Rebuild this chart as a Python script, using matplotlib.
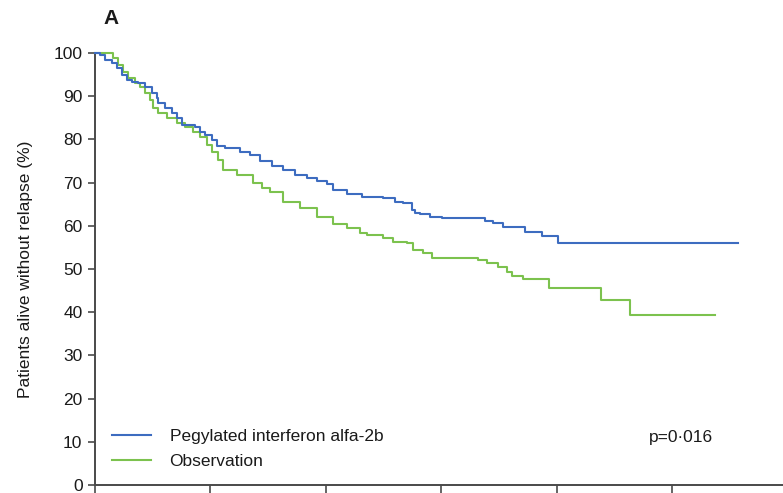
import matplotlib
matplotlib.use("Agg")
import matplotlib.pyplot as plt
from matplotlib import font_manager

# Data (years, % alive without relapse)
peg_t = [0.000, 0.043, 0.087, 0.147, 0.191, 0.234, 0.277, 0.321, 0.373, 0.433, 0.494,
         0.537, 0.546, 0.607, 0.667, 0.711, 0.754, 0.867, 0.910, 0.953, 1.014, 1.057,
         1.127, 1.256, 1.343, 1.430, 1.534, 1.629, 1.733, 1.837, 1.924, 2.010, 2.062,
         2.184, 2.314, 2.496, 2.600, 2.669, 2.747, 2.773, 2.816, 2.903, 3.007, 3.380,
         3.449, 3.536, 3.726, 3.873, 4.012, 5.572]
peg_s = [100.0, 99.5, 98.4, 97.7, 96.5, 94.9, 93.8, 93.3, 93.1, 92.1, 90.7,
         89.6, 88.4, 87.3, 86.1, 85.0, 83.3, 82.9, 81.7, 81.0, 79.9, 78.5,
         78.0, 77.1, 76.4, 75.0, 73.8, 72.9, 71.8, 71.1, 70.4, 69.7, 68.3,
         67.4, 66.7, 66.4, 65.5, 65.3, 63.7, 63.0, 62.7, 62.0, 61.8, 61.1,
         60.6, 59.7, 58.6, 57.6, 56.0, 56.0]

obs_t = [0.000, 0.113, 0.156, 0.199, 0.243, 0.286, 0.347, 0.390, 0.433, 0.477, 0.503,
         0.546, 0.624, 0.711, 0.780, 0.849, 0.910, 0.971, 1.014, 1.066, 1.109, 1.231,
         1.369, 1.447, 1.516, 1.629, 1.776, 1.924, 2.062, 2.184, 2.296, 2.357, 2.496,
         2.582, 2.704, 2.756, 2.842, 2.920, 3.319, 3.397, 3.492, 3.570, 3.614, 3.709,
         3.934, 4.385, 4.636, 5.373]
obs_s = [100.0, 100.0, 98.8, 97.2, 95.6, 94.2, 93.1, 92.1, 90.7, 89.1, 87.3,
         86.1, 85.0, 83.8, 82.9, 81.7, 80.6, 78.7, 77.1, 75.2, 72.9, 71.8,
         69.9, 68.8, 67.8, 65.5, 64.1, 62.0, 60.4, 59.5, 58.3, 57.9, 57.2,
         56.2, 56.0, 54.4, 53.7, 52.5, 52.1, 51.4, 50.5, 49.3, 48.4, 47.7,
         45.6, 42.8, 39.4, 39.4]

series_labels = ["Pegylated interferon alfa-2b", "Observation"]
y_ticks = [0, 10, 20, 30, 40, 50, 60, 70, 80, 90, 100]
x_ticks = [0, 1, 2, 3, 4, 5]

names = {f.name for f in font_manager.fontManager.ttflist}
fam = "Liberation Sans Narrow" if "Liberation Sans Narrow" in names else "Liberation Sans"
plt.rcParams["font.family"] = [fam, "DejaVu Sans"]

BLUE = "#3d6cc0"
GREEN = "#7cc24e"
AX = "#4a4a4a"
TXT = "#1a1a1a"

fig = plt.figure(figsize=(7.83, 4.93), dpi=100)
ax = fig.add_axes([95/783, 8/493, 688/783, 432/493])

ax.plot(peg_t, peg_s, drawstyle="steps-post", color=BLUE, lw=1.5, clip_on=False,
        label=series_labels[0], zorder=3)
ax.plot(obs_t, obs_s, drawstyle="steps-post", color=GREEN, lw=1.5, clip_on=False,
        label=series_labels[1], zorder=2)

ax.set_xlim(0, 688/115.4)
ax.set_ylim(0, 100)
for s in ["top", "right"]:
    ax.spines[s].set_visible(False)
for s in ["left", "bottom"]:
    ax.spines[s].set_color(AX)
    ax.spines[s].set_linewidth(1.4)

ax.set_yticks(y_ticks)
ax.set_yticklabels([str(v) for v in y_ticks], fontsize=12.5, color=TXT)
ax.set_xticks(x_ticks)
ax.set_xticklabels([])
ax.tick_params(axis="y", direction="out", length=5, width=1.2, color=AX, pad=4)
ax.tick_params(axis="x", direction="out", length=8, width=1.2, color=AX)

ax.set_ylabel("Patients alive without relapse (%)", fontsize=12.5, color=TXT, labelpad=15)

leg = ax.legend(loc="upper left", bbox_to_anchor=(0.15, 13.0), bbox_transform=ax.transData,
                frameon=False, fontsize=12.5, handlelength=2.2, handletextpad=1.1,
                borderpad=0, borderaxespad=0, labelspacing=0.55)
for t in leg.get_texts():
    t.set_color(TXT)

ax.text(4.80, 11.0, "p=0·016", fontsize=12.5, color=TXT, va="center", ha="left")

fig.text(103/783, 1 - 19/493, "A", fontsize=15, fontweight="bold", va="center", ha="left",
         color=TXT)

fig.savefig("out.png", dpi=100)
